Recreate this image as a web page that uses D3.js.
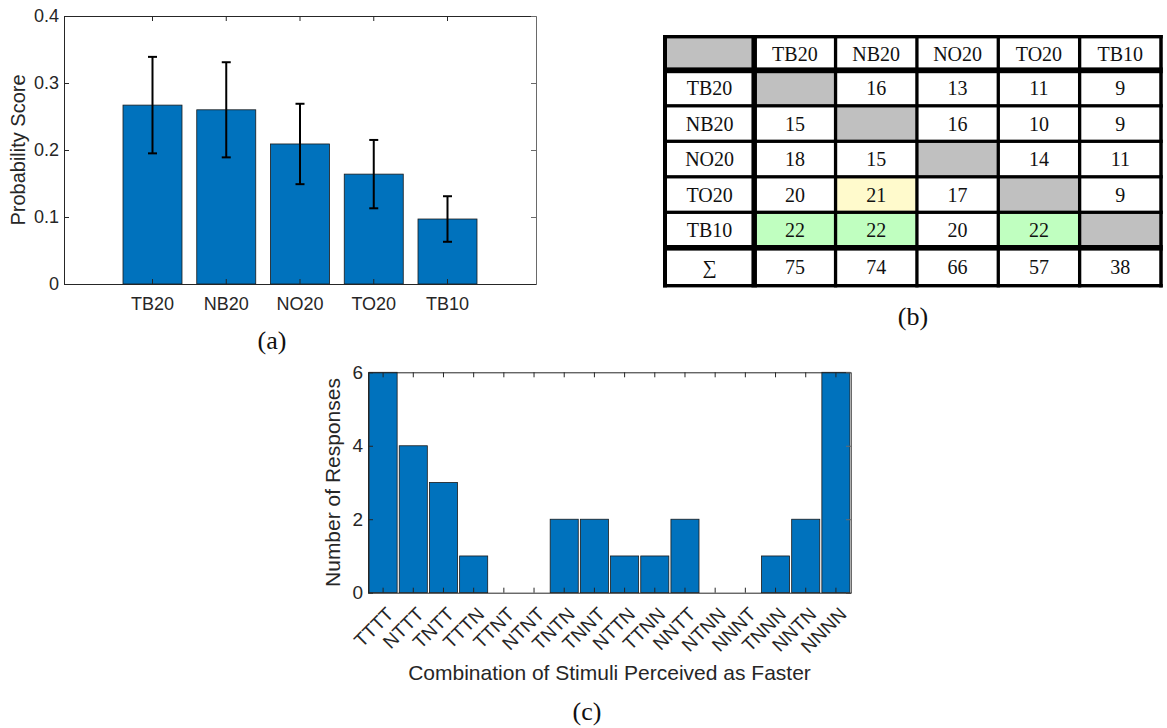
<!DOCTYPE html>
<html>
<head>
<meta charset="utf-8">
<script src="https://cdnjs.cloudflare.com/ajax/libs/d3/7.8.5/d3.min.js"></script>
<style>
  body { margin: 0; background: #fff; }
  svg text { font-family: "Liberation Sans", Arial, sans-serif; fill: #262626; }
  svg text.serif { font-family: "Liberation Serif", "Times New Roman", serif; fill: #111; }
</style>
</head>
<body>
<svg id="fig" width="1167" height="728"></svg>
<script>
(function() {
  var stimuli, scores, scoreErr, scoreTicks, scoreTickLabels;
  var tableCols, tableRows, wins, winTotals, yellowCells, greenCells;
  var combos, responses, responseTicks;
  var svg, drawFrame, a, c, t, xa, ya, xc, yc, colX, rowY, cells, lines, tRight;

  // (a) mean probability score per stimulus, with error bar half-length
  stimuli = ["TB20", "NB20", "NO20", "TO20", "TB10"];
  scores = [0.267, 0.260, 0.209, 0.164, 0.097];
  scoreErr = [0.072, 0.071, 0.060, 0.051, 0.034];
  scoreTicks = [0, 0.1, 0.2, 0.3, 0.4];
  scoreTickLabels = ["0", "0.1", "0.2", "0.3", "0.4"];

  // (b) pairwise table: row stimulus preferred over column stimulus
  tableCols = ["TB20", "NB20", "NO20", "TO20", "TB10"];
  tableRows = ["TB20", "NB20", "NO20", "TO20", "TB10"];
  wins = [
    [null, 16, 13, 11, 9],
    [15, null, 16, 10, 9],
    [18, 15, null, 14, 11],
    [20, 21, 17, null, 9],
    [22, 22, 20, 22, null]
  ];
  winTotals = [75, 74, 66, 57, 38];
  yellowCells = [[3, 1]];
  greenCells = [[4, 0], [4, 1], [4, 3]];

  // (c) responses per combination
  combos = ["TTTT", "NTTT", "TNTT", "TTTN", "TTNT", "NTNT", "TNTN", "TNNT",
            "NTTN", "TTNN", "NNTT", "NTNN", "NNNT", "TNNN", "NNTN", "NNNN"];
  responses = [6, 4, 3, 1, 0, 0, 2, 2, 1, 1, 2, 0, 0, 1, 2, 6];
  responseTicks = [0, 2, 4, 6];

  svg = d3.select("#fig");

  // box with inward ticks on all four sides, matlab style
  drawFrame = function(g, x, y, yTicks, yLabels, fs) {
    var x0 = x.range()[0], x1 = x.range()[1], y0 = y.range()[0], y1 = y.range()[1];
    var style = function(sel) {
      sel.attr("font-size", fs).attr("font-family", null).attr("color", "#262626");
      sel.select(".domain").attr("stroke-width", 1);
      sel.selectAll(".tick line").attr("stroke-width", 1);
    };
    g.append("g").attr("transform", "translate(0," + y1 + ")")
      .call(d3.axisTop(x).tickSizeInner(-5).tickSizeOuter(0).tickFormat(""))
      .call(style);
    g.append("g").attr("transform", "translate(" + x1 + ",0)")
      .call(d3.axisRight(y).tickValues(yTicks).tickSizeInner(-5).tickSizeOuter(0).tickFormat(""))
      .call(style)
      .attr("color", "#6a6a6a");
    g.append("g").attr("transform", "translate(" + x0 + ",0)")
      .call(d3.axisLeft(y).tickValues(yTicks).tickSizeInner(-5).tickSizeOuter(0).tickPadding(5)
        .tickFormat(function(d, i) { return yLabels[i]; }))
      .call(style);
    return g.append("g").attr("transform", "translate(0," + y0 + ")")
      .call(d3.axisBottom(x).tickSizeInner(-5).tickSizeOuter(0).tickPadding(13))
      .call(style);
  };

  // ---------- (a) ----------
  a = svg.append("g");
  xa = d3.scaleBand().domain(stimuli).range([64, 536]).paddingInner(0.2).paddingOuter(0.8);
  ya = d3.scaleLinear().domain([0, 0.4]).range([284, 16]);

  a.selectAll("rect.bar").data(stimuli).enter().append("rect")
    .attr("class", "bar")
    .attr("x", function(d) { return xa(d); })
    .attr("y", function(d, i) { return ya(scores[i]); })
    .attr("width", xa.bandwidth())
    .attr("height", function(d, i) { return ya(0) - ya(scores[i]); })
    .style("fill", "#0072BD")
    .style("stroke", "#1a1a1a")
    .style("stroke-width", 0.8);

  a.selectAll("g.err").data(stimuli).enter().append("g")
    .attr("class", "err")
    .each(function(d, i) {
      var cx = xa(d) + xa.bandwidth() / 2;
      var hi = ya(scores[i] + scoreErr[i]), lo = ya(scores[i] - scoreErr[i]);
      var e = d3.select(this).style("stroke", "#000").style("stroke-width", 2);
      e.append("line").attr("x1", cx).attr("x2", cx).attr("y1", hi).attr("y2", lo);
      e.append("line").attr("x1", cx - 4.5).attr("x2", cx + 4.5).attr("y1", hi).attr("y2", hi);
      e.append("line").attr("x1", cx - 4.5).attr("x2", cx + 4.5).attr("y1", lo).attr("y2", lo);
    });

  drawFrame(a, xa, ya, scoreTicks, scoreTickLabels, 18);

  a.append("text")
    .attr("transform", "translate(25," + ((ya(0) + ya(0.4)) / 2) + ") rotate(-90)")
    .attr("text-anchor", "middle")
    .style("font-size", "20px")
    .text("Probability Score");

  a.append("text").attr("class", "serif")
    .attr("x", 272).attr("y", 349)
    .attr("text-anchor", "middle")
    .style("font-size", "26px")
    .text("(a)");

  // ---------- (b) ----------
  t = svg.append("g");
  tRight = 1161;
  colX = d3.scaleBand().domain(tableCols).range([754.2, tRight]);
  rowY = d3.scaleBand().domain(tableRows).range([70.3, 247.8]);

  cells = [];
  cells.push({x0: 665, x1: 754.2, y0: 36.7, y1: 70.3, fill: "#c0c0c0", text: ""});
  tableCols.forEach(function(cn) {
    cells.push({x0: colX(cn), x1: colX(cn) + colX.bandwidth(), y0: 36.7, y1: 70.3, fill: "#fff", text: cn});
  });
  tableRows.forEach(function(rn, r) {
    cells.push({x0: 665, x1: 754.2, y0: rowY(rn), y1: rowY(rn) + rowY.bandwidth(), fill: "#fff", text: rn});
    tableCols.forEach(function(cn, k) {
      var fill = "#fff";
      if (wins[r][k] === null) fill = "#c0c0c0";
      yellowCells.forEach(function(p) { if (p[0] === r && p[1] === k) fill = "#fffacc"; });
      greenCells.forEach(function(p) { if (p[0] === r && p[1] === k) fill = "#c0ffc0"; });
      cells.push({x0: colX(cn), x1: colX(cn) + colX.bandwidth(), y0: rowY(rn), y1: rowY(rn) + rowY.bandwidth(),
                  fill: fill, text: wins[r][k] === null ? "" : String(wins[r][k])});
    });
  });
  cells.push({x0: 665, x1: 754.2, y0: 247.8, y1: 285.7, fill: "#fff", text: "\u2211"});
  tableCols.forEach(function(cn, k) {
    cells.push({x0: colX(cn), x1: colX(cn) + colX.bandwidth(), y0: 247.8, y1: 285.7, fill: "#fff", text: String(winTotals[k])});
  });

  t.selectAll("rect.cell").data(cells).enter().append("rect")
    .attr("class", "cell")
    .attr("x", function(d) { return d.x0; })
    .attr("y", function(d) { return d.y0; })
    .attr("width", function(d) { return d.x1 - d.x0; })
    .attr("height", function(d) { return d.y1 - d.y0; })
    .style("fill", function(d) { return d.fill; });

  t.selectAll("text.cell").data(cells).enter().append("text")
    .attr("class", "serif")
    .attr("x", function(d) { return (d.x0 + d.x1) / 2; })
    .attr("y", function(d) { return (d.y0 + d.y1) / 2; })
    .attr("dy", "0.37em")
    .attr("text-anchor", "middle")
    .style("font-size", "20px")
    .text(function(d) { return d.text; });

  // grid lines: [position, width, vertical?]
  lines = [[665, 4, true], [754.2, 5.5, true], [tRight, 3.5, true],
           [36.7, 3.4, false], [70.3, 5.8, false], [247.8, 5.6, false], [285.7, 3.4, false]];
  tableCols.slice(1).forEach(function(cn) { lines.push([colX(cn), 3.3, true]); });
  tableRows.slice(1).forEach(function(rn) { lines.push([rowY(rn), 3.3, false]); });

  t.selectAll("rect.line").data(lines).enter().append("rect")
    .attr("class", "line")
    .attr("x", function(d) { return d[2] ? d[0] - d[1] / 2 : 663; })
    .attr("y", function(d) { return d[2] ? 35 : d[0] - d[1] / 2; })
    .attr("width", function(d) { return d[2] ? d[1] : tRight + 1.75 - 663; })
    .attr("height", function(d) { return d[2] ? 287.4 - 35 : d[1]; })
    .style("fill", "#000");

  t.append("text").attr("class", "serif")
    .attr("x", 913).attr("y", 325)
    .attr("text-anchor", "middle")
    .style("font-size", "26px")
    .text("(b)");

  // ---------- (c) ----------
  c = svg.append("g");
  xc = d3.scaleBand().domain(combos).range([368, 851]).paddingInner(0.07).paddingOuter(0.035);
  yc = d3.scaleLinear().domain([0, 6]).range([592.7, 372.3]);

  c.selectAll("rect.bar").data(combos).enter().append("rect")
    .attr("class", "bar")
    .attr("x", function(d) { return xc(d); })
    .attr("y", function(d, i) { return yc(responses[i]); })
    .attr("width", xc.bandwidth())
    .attr("height", function(d, i) { return yc(0) - yc(responses[i]); })
    .style("fill", "#0072BD")
    .style("stroke", "#1a1a1a")
    .style("stroke-width", 0.8);

  drawFrame(c, xc, yc, responseTicks, responseTicks.map(String), 19)
    .selectAll(".tick text")
    .attr("y", 0).attr("dy", "0.35em")
    .attr("text-anchor", "end")
    .attr("transform", "translate(7,18) rotate(-45)");

  c.append("text")
    .attr("transform", "translate(340," + ((yc(0) + yc(6)) / 2) + ") rotate(-90)")
    .attr("text-anchor", "middle")
    .style("font-size", "21px")
    .text("Number of Responses");

  c.append("text")
    .attr("x", (xc.range()[0] + xc.range()[1]) / 2).attr("y", 680)
    .attr("text-anchor", "middle")
    .style("font-size", "21px")
    .text("Combination of Stimuli Perceived as Faster");

  c.append("text").attr("class", "serif")
    .attr("x", 587).attr("y", 720)
    .attr("text-anchor", "middle")
    .style("font-size", "26px")
    .text("(c)");

}).call(this);
</script>
</body>
</html>
